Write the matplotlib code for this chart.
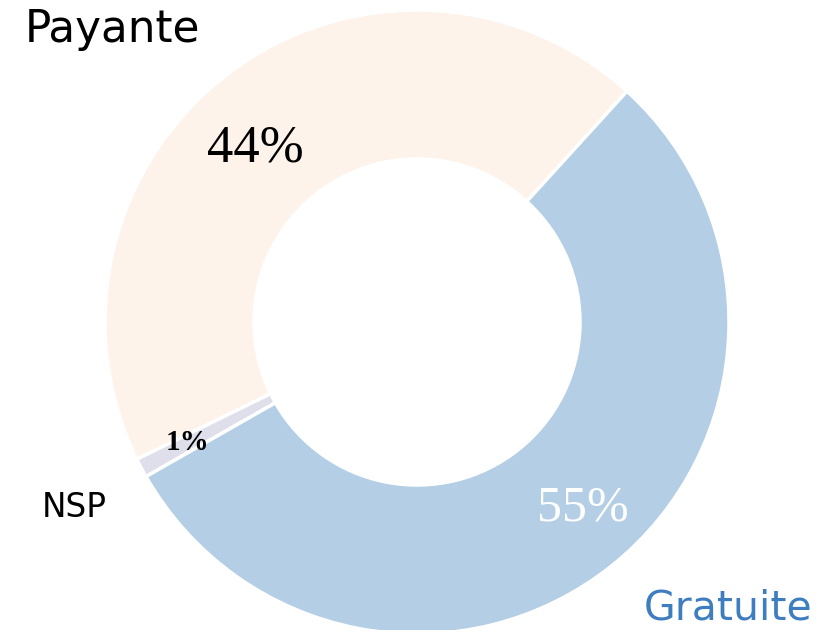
import matplotlib
matplotlib.use("Agg")
import matplotlib.pyplot as plt

categories = ["Payante", "NSP", "Gratuite"]
values = [44, 1, 55]
pct_labels = ["44%", "1%", "55%"]
colors = ["#FDF3EA", "#DEDFEA", "#B3CEE5"]

fig = plt.figure(figsize=(8.34, 6.30), dpi=100)
ax = fig.add_axes([0, 0, 1, 1])
ax.set_xlim(0, 834)
ax.set_ylim(0, 630)
ax.set_aspect("equal")
ax.axis("off")

cx, cy, R = 417, 308, 312
wedges, _ = ax.pie(values, colors=colors, startangle=47.7, counterclock=True,
                   center=(cx, cy), radius=R,
                   wedgeprops=dict(width=R - 163, edgecolor="white", linewidth=2.5))
ax.set_xlim(0, 834)
ax.set_ylim(0, 630)

serif = "Liberation Serif"
ax.text(255, 630 - 148, pct_labels[0], fontsize=38, family=serif, color="black",
        ha="center", va="center")
ax.text(188, 630 - 442, pct_labels[1], fontsize=21, family=serif, weight="bold",
        color="black", ha="center", va="center")
ax.text(583, 630 - 508, pct_labels[2], fontsize=36, family=serif, color="white",
        ha="center", va="center")

sans = "DejaVu Sans"
ax.text(25, 630 - 42, categories[0], fontsize=31.5, family=sans, color="black",
        ha="left", va="baseline")
ax.text(42, 630 - 517, categories[1], fontsize=23.5, family=sans, color="black",
        ha="left", va="baseline")
ax.text(812, 630 - 620, categories[2], fontsize=29.5, family=sans, color="#3E7EC0",
        ha="right", va="baseline")

fig.savefig("out.png", dpi=100)
